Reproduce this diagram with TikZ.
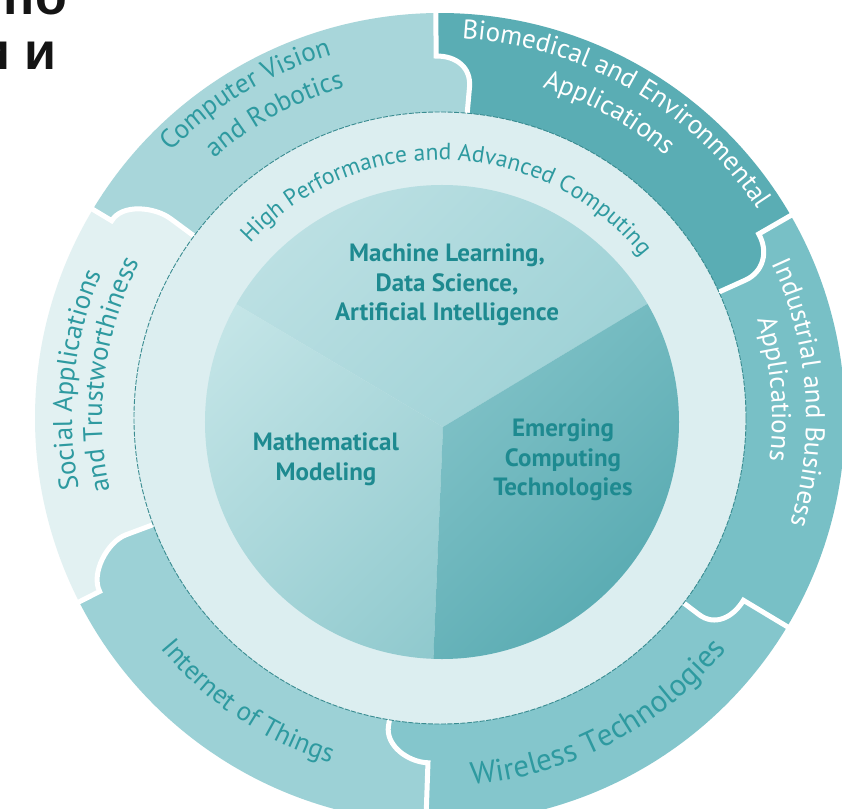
\documentclass[tikz,border=0pt]{standalone}
\usepackage{fontspec}
\setmainfont{PT Sans}
\newfontfamily\cyrfont{Liberation Sans}
\usetikzlibrary{calc,decorations.text}
\definecolor{cvc}{HTML}{A8D6DA}
\definecolor{bioc}{HTML}{5AADB4}
\definecolor{indc}{HTML}{78C0C6}
\definecolor{wirc}{HTML}{84C6CC}
\definecolor{iotc}{HTML}{9CD1D6}
\definecolor{socc}{HTML}{E2F1F2}
\definecolor{midc}{HTML}{DCEEF0}
\definecolor{ringtxt}{HTML}{2E9AA0}
\definecolor{pietxt}{HTML}{1E8A90}
\definecolor{edgec}{HTML}{3A8C91}
\definecolor{mlT}{HTML}{BCE0E3}
\definecolor{mlB}{HTML}{8ECACF}
\definecolor{mmT}{HTML}{C6E6E8}
\definecolor{mmB}{HTML}{84C3C8}
\definecolor{ecT}{HTML}{A0D4D8}
\definecolor{ecB}{HTML}{5BACB3}
% boundary from outside inward: #1 outer angle, #2 step radius, #3 inner angle, #4 inner step radius
\newcommand\bdown[4]{-- (#1:#2) .. controls ($(#1:#2)+(#1-90:20)$) and (#3:#4+20) .. (#3:#4) -- (#3:306)}
\newcommand\bup[4]{-- (#3:#4) .. controls (#3:#4+20) and ($(#1:#2)+(#1-90:20)$) .. (#1:#2) -- (#1:405)}
\newcommand\ringsz{\fontsize{27}{31}\selectfont}
\begin{document}
\begin{tikzpicture}[x=1pt,y=1pt,
  gap/.style={draw=white, line width=5pt},
  pietext/.style={font=\bfseries\fontsize{25}{29.5}\selectfont, text=pietxt, align=center, inner sep=0pt},
  cyr/.style={font=\cyrfont\bfseries\fontsize{52}{60}\selectfont, text=black!92, inner sep=0pt}]
\useasboundingbox (-440,-390) rectangle (402,418);
\fill[white] (-440,-390) rectangle (402,418);
% middle ring
\fill[midc] (0,0) circle[radius=306];
% outer segments
\fill[wirc] (-31:405) arc[start angle=-31, end angle=-92, radius=405] \bdown{-92}{345}{-99.5}{312} arc[start angle=-99.5, end angle=-37.2, radius=306] \bup{-31}{354}{-37.2}{325} -- cycle;
\fill[indc] (30:405) arc[start angle=30, end angle=-31, radius=405] \bdown{-31}{354}{-37.2}{325} arc[start angle=-37.2, end angle=24.3, radius=306] \bup{30}{368}{24.3}{335} -- cycle;
\fill[bioc] (90.6:405) arc[start angle=90.6, end angle=30, radius=405] \bdown{30}{368}{24.3}{335} arc[start angle=24.3, end angle=84.9, radius=306] \bup{90.6}{362}{84.9}{332} -- cycle;
\fill[cvc] (149:405) arc[start angle=149, end angle=90.6, radius=405] \bdown{90.6}{362}{84.9}{332} arc[start angle=84.9, end angle=143.5, radius=306] \bup{149}{383}{143.5}{335} -- cycle;
\fill[socc] (207:405) arc[start angle=207, end angle=149, radius=405] \bdown{149}{383}{143.5}{335} arc[start angle=143.5, end angle=200.4, radius=306] \bup{207}{382}{200.4}{335} -- cycle;
\fill[iotc] (268:405) arc[start angle=268, end angle=207, radius=405] \bdown{207}{382}{200.4}{335} arc[start angle=200.4, end angle=260.5, radius=306] \bup{268}{345}{260.5}{312} -- cycle;
% white gaps
\path[gap] (90.6:415) \bdown{90.6}{362}{84.9}{332};
\path[gap] (30:415) \bdown{30}{368}{24.3}{335};
\path[gap] (-31:415) \bdown{-31}{354}{-37.2}{325};
\path[gap] (-92:415) \bdown{-92}{345}{-99.5}{312};
\path[gap] (-153:415) \bdown{-153}{382}{-159.6}{335};
\path[gap] (149:415) \bdown{149}{383}{143.5}{335};
% edge of middle ring
\draw[edgec, line width=0.9pt, dash pattern=on 5pt off 1.5pt] (0,0) circle[radius=306];
% pie
\begin{scope}
\clip (2,-4) circle[radius=237];
\begin{scope}
\clip (3,-9) -- (150:500) -- (90:500) -- (30:500) -- cycle;
\shade[top color=mlT, bottom color=mlB, shading angle=45] (-245,-250) rectangle (245,240);
\end{scope}
\begin{scope}
\clip (3,-9) -- (150:500) -- (210:500) -- (268:500) -- cycle;
\shade[top color=mmT, bottom color=mmB, shading angle=45] (-245,-250) rectangle (245,240);
\end{scope}
\begin{scope}
\clip (3,-9) -- (268:500) -- (330:500) -- (30:500) -- cycle;
\shade[top color=ecT, bottom color=ecB, shading angle=45] (-245,-250) rectangle (245,240);
\end{scope}
\end{scope}
% pie labels
\node[pietext] (ml) at (7,133) {Machine Learning,\\Data Science,\\Artificial Intelligence};
\node[pietext] (mm) at (-114,-41.5) {Mathematical\\Modeling};
\node[pietext] (ec) at (123,-42) {Emerging\\Computing\\Technologies};
% ring labels
\path[decorate, decoration={text along path, text align=center, text color=ringtxt, text={|\fontsize{23.5}{27}\selectfont|High Performance and Advanced Computing}}] (178:258) arc[start angle=178, end angle=-2, radius=258];
\path[decorate, decoration={text along path, text align=center, text color=ringtxt, text={|\ringsz|Computer Vision}}] (181:379) arc[start angle=181, end angle=61, radius=379];
\path[decorate, decoration={text along path, text align=center, text color=ringtxt, text={|\ringsz|and Robotics}}] (178.5:344) arc[start angle=178.5, end angle=58.5, radius=344];
\path[decorate, decoration={text along path, text align=center, text color=white, text={|\ringsz|Biomedical and Environmental}}] (120:380) arc[start angle=120, end angle=0, radius=380];
\path[decorate, decoration={text along path, text align=center, text color=white, text={|\ringsz|Applications}}] (121:346) arc[start angle=121, end angle=1, radius=346];
\path[decorate, decoration={text along path, text align=center, text color=white, text={|\ringsz|Industrial and Business}}] (64:366) arc[start angle=64, end angle=-56, radius=366];
\path[decorate, decoration={text along path, text align=center, text color=white, text={|\ringsz|Applications}}] (65:332) arc[start angle=65, end angle=-55, radius=332];
\path[decorate, decoration={text along path, text align=center, text color=ringtxt, text={|\ringsz|Social Applications}}] (234:368) arc[start angle=234, end angle=114, radius=368];
\path[decorate, decoration={text along path, text align=center, text color=ringtxt, text={|\ringsz|and Trustworthiness}}] (232.5:338) arc[start angle=232.5, end angle=112.5, radius=338];
\path[decorate, decoration={text along path, text align=center, text color=ringtxt, text={|\ringsz|Internet of Things}}] (-184:362) arc[start angle=-184, end angle=-64, radius=362];
\path[decorate, decoration={text along path, text align=center, text color=ringtxt, text={|\fontsize{31}{35}\selectfont|Wireless Technologies}}] (-122:368) arc[start angle=-122, end angle=-2, radius=368];
% cut-off title fragments
\node[cyr, anchor=base east] (t1) at (-373,403) {по};
\node[cyr, anchor=base east] (t2) at (-383,348) {и и};
\end{tikzpicture}
\end{document}
